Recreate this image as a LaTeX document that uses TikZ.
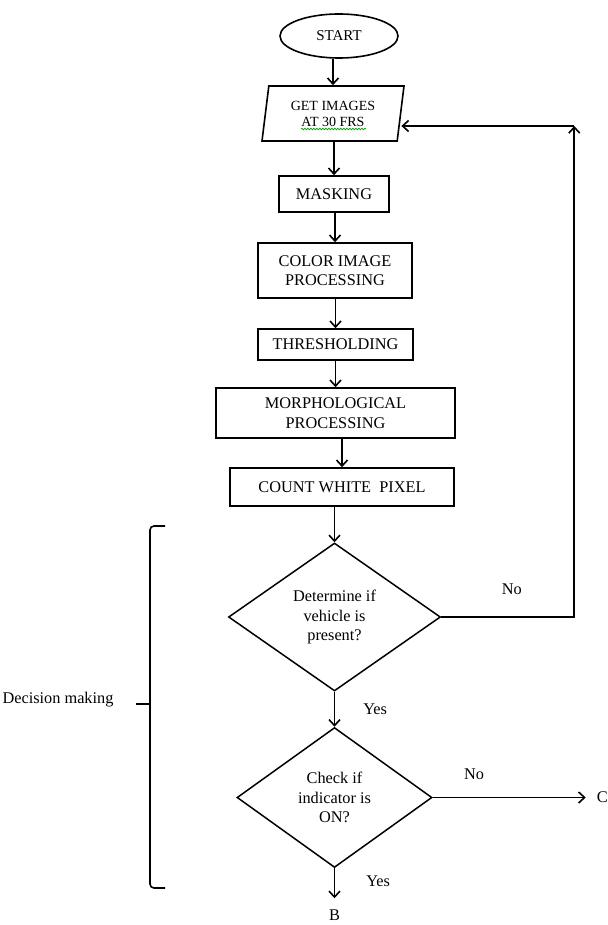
\documentclass[tikz,border=0pt]{standalone}
\usepackage{fontspec}
\setmainfont{Liberation Serif}
\usetikzlibrary{shapes.geometric, arrows.meta, positioning, decorations.pathmorphing}
\tikzstyle{arrow} = [line width=1.6pt, -{Straight Barb[length=6pt,width=11pt]}]
\tikzstyle{line} = [line width=1.6pt]
\tikzstyle{startstop} = [ellipse, draw, line width=1.6pt]
\tikzstyle{io} = [trapezium, trapezium left angle=78, trapezium right angle=102, trapezium stretches body, draw, line width=1.6pt, align=center]
\tikzstyle{process} = [rectangle, draw, line width=1.6pt, align=center, inner sep=2pt]
\tikzstyle{decision} = [diamond, draw, line width=1.5pt, align=center, inner sep=0pt]
\tikzstyle{answer} = [inner sep=2pt]
\tikzstyle{terminal} = [inner sep=11pt]

\begin{document}
\begin{tikzpicture}[x=1pt, y=-1pt, font=\fontsize{16.3}{19.5}\selectfont]
    \useasboundingbox (0,0) rectangle (607,925);

    \node (start) [startstop, minimum width=118pt, minimum height=44pt, font=\fontsize{15}{18}\selectfont] at (339,36) {START};
    \node (get) [io, minimum width=142pt, minimum height=55pt, font=\fontsize{14}{16}\selectfont] at (333,113.5) {GET IMAGES\\AT 30 FRS};
    \node (mask) [process, minimum width=110pt, minimum height=36pt] at (334,194) {MASKING};
    \node (color) [process, minimum width=154pt, minimum height=55pt] at (335,270.5) {COLOR IMAGE\\PROCESSING};
    \node (thresh) [process, minimum width=155pt, minimum height=31pt] at (335.5,344.5) {THRESHOLDING};
    \node (morph) [process, minimum width=239pt, minimum height=50pt] at (335.5,413) {MORPHOLOGICAL\\PROCESSING};
    \node (count) [process, minimum width=224pt, minimum height=38pt] at (342,487) {COUNT WHITE~ PIXEL};
    \node (dec1) [decision, minimum width=212pt, minimum height=148pt] at (334.5,617) {Determine if\\vehicle is\\present?};
    \node (dec2) [decision, minimum width=195pt, minimum height=140pt, below=35pt of dec1] {Check if\\indicator is\\ON?};
    \node (b) [terminal, below=30pt of dec2] {B};
    \node (c) [terminal, right=153pt of dec2] {C};

    % spell-check squiggle under the frame rate
    \draw[green!60!black, line width=0.7pt, decorate, decoration={snake, amplitude=0.8pt, segment length=3pt}] (301,129) -- (366,129);

    \foreach \p/\q in {start/get, get/mask, mask/color, color/thresh, thresh/morph, morph/count, count/dec1}
        \draw[arrow] (\p.south -| \q.north) -- (\q.north);

    \draw[arrow] (dec1) -- node[answer, right=26pt] {Yes} (dec2);
    \draw[arrow] (dec2) -- node[answer, right=29pt, yshift=2pt] {Yes} (b);
    \draw[arrow] (dec2) -- node[answer, above=15pt, pos=0.27] {No} (c);

    % loop back when no vehicle
    \coordinate[right=133pt of dec1.east] (fbbot);
    \coordinate[above=491pt of fbbot] (fbtop);
    \draw[arrow] (dec1) -- node[answer, above=20pt, xshift=4pt] {No} (fbbot) -- (fbtop);
    \draw[arrow] (fbtop) -- (get.east |- fbtop);

    % decision bracket
    \draw[line, rounded corners=4pt] (165,526) -- (150,526) -- (150,888) -- (165,888);
    \draw[line] (150,704) -- (136,704);
    \node (decide) [anchor=east] at (117,700) {Decision making};
\end{tikzpicture}
\end{document}
